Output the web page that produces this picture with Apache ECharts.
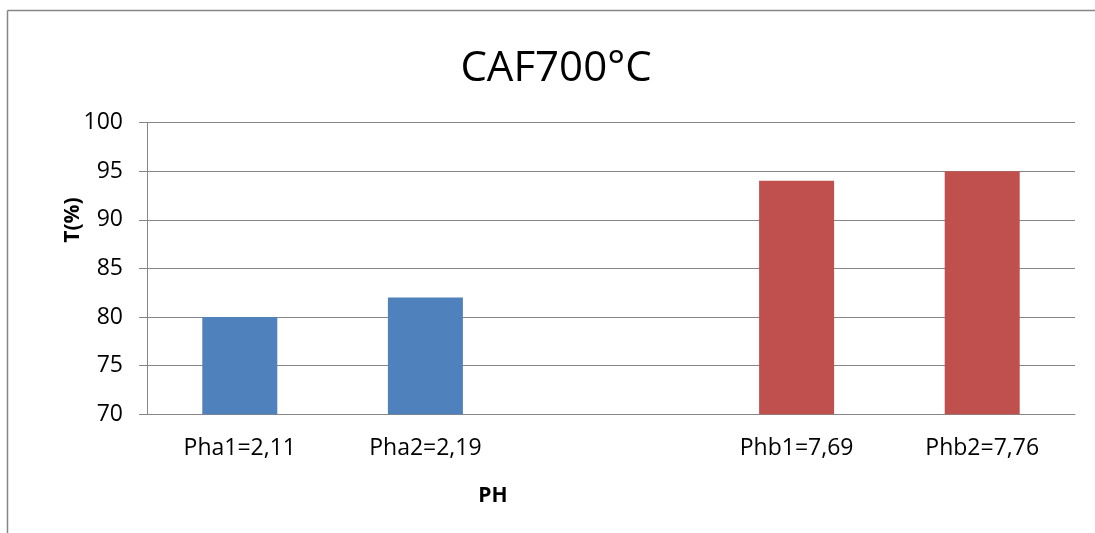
<!DOCTYPE html>
<html>
<head>
<meta charset="utf-8">
<script src="https://cdn.jsdelivr.net/npm/echarts@6/dist/echarts.min.js"></script>
<style>html,body{margin:0;padding:0;background:#fff}#c{width:1095px;height:533px}</style>
</head>
<body>
<div id="c"></div>
<script>
const categories = ['Pha1=2,11', 'Pha2=2,19', '', 'Phb1=7,69', 'Phb2=7,76'];
const seriesA = [80, 82, '-', '-', '-'];
const seriesB = ['-', '-', '-', 94, 95];
const yTicks = [70, 75, 80, 85, 90, 95, 100];

const FONT = '"Open Sans", "Noto Sans", sans-serif';
const chart = echarts.init(document.getElementById('c'), null, {renderer: 'canvas'});
chart.setOption({
  animation: false,
  backgroundColor: '#fff',
  title: {
    text: 'CAF700°C',
    left: 551, top: 64,
    textAlign: 'center', textVerticalAlign: 'middle',
    textStyle: {fontFamily: FONT, fontSize: 42, fontWeight: 'normal', color: '#000'}
  },
  grid: {left: 147, right: 20, top: 122.5, bottom: 118.7, containLabel: false},
  xAxis: {
    type: 'category',
    data: categories,
    axisLine: {lineStyle: {color: '#868686', width: 1}},
    axisTick: {show: false},
    axisLabel: {fontFamily: FONT, fontSize: 23, color: '#000', margin: 23, interval: 0}
  },
  yAxis: {
    type: 'value',
    min: yTicks[0], max: yTicks[yTicks.length - 1], interval: 5,
    axisLine: {show: true, lineStyle: {color: '#868686', width: 1}},
    axisTick: {show: true, length: 8, lineStyle: {color: '#868686'}},
    splitLine: {lineStyle: {color: '#868686', width: 1}},
    axisLabel: {fontFamily: FONT, fontSize: 23, color: '#000', margin: 24}
  },
  series: [
    {name: 'Pha', type: 'bar', data: seriesA, barWidth: 75, barGap: '-100%',
     itemStyle: {color: '#4F81BD'}},
    {name: 'Phb', type: 'bar', data: seriesB, barWidth: 75, barGap: '-100%',
     itemStyle: {color: '#C0504D'}}
  ],
  graphic: [
    {type: 'line', shape: {x1: 7.5, y1: 10.5, x2: 1095, y2: 10.5},
     style: {stroke: '#868686', lineWidth: 1.5}, silent: true},
    {type: 'line', shape: {x1: 7.5, y1: 10.5, x2: 7.5, y2: 533},
     style: {stroke: '#868686', lineWidth: 1.5}, silent: true},
    {type: 'text', x: 493, y: 496,
     style: {text: 'PH', fontFamily: FONT, fontSize: 21, fontWeight: 'bold', fill: '#000',
             align: 'center', verticalAlign: 'middle'}},
    {type: 'text', x: 73, y: 220, rotation: Math.PI / 2,
     style: {text: 'T(%)', fontFamily: FONT, fontSize: 21, fontWeight: 'bold', fill: '#000',
             align: 'center', verticalAlign: 'middle'}}
  ]
});
</script>
</body>
</html>
